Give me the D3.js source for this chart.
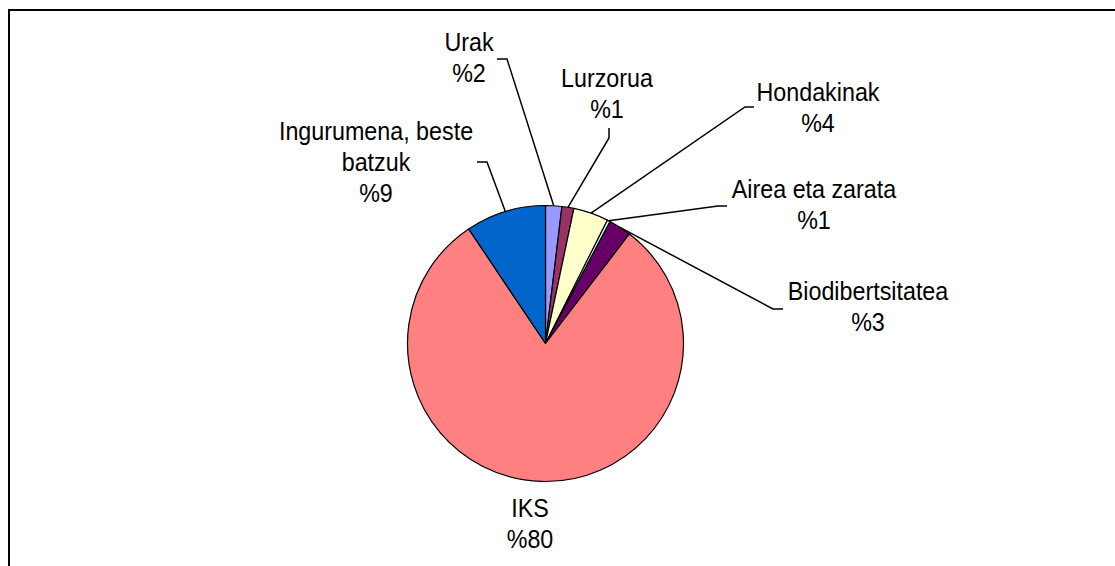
<!DOCTYPE html>
<html><head><meta charset="utf-8">
<script src="https://cdn.jsdelivr.net/npm/d3@7"></script>
<style>body{margin:0;background:#fff}svg{display:block}text{font-family:"Liberation Sans",Arial,sans-serif;font-size:23.3px;fill:#000}</style>
</head><body>
<script>
const categories = ["Urak","Lurzorua","Hondakinak","Airea eta zarata","Biodibertsitatea","IKS","Ingurumena, beste batzuk"];
const values = [1.9,1.4,4.1,0.35,2.65,80.2,9.4];
const pctLabels = ["%2","%1","%4","%1","%3","%80","%9"];
const colors = ["#9999FF","#993366","#FFFFCC","#CCFFFF","#660066","#FF8080","#0066CC"];

// label layout: text lines, centre x, first baseline, leader stub (start, corner)
const labelLayout = [
  {lines:["Urak"], x:469, y:51, stub:[[497,59],[507,59]]},
  {lines:["Lurzorua"], x:607, y:87, stub:[[609,128],[609,138]]},
  {lines:["Hondakinak"], x:818, y:101, stub:[[754,107],[745,107]]},
  {lines:["Airea eta zarata"], x:814, y:198, stub:[[727,206],[718,206]]},
  {lines:["Biodibertsitatea"], x:868, y:300, stub:[[783,309],[773,309]]},
  {lines:["IKS"], x:530, y:517, stub:null},
  {lines:["Ingurumena, beste","batzuk"], x:376, y:140, stub:[[477,162],[487,162]]}
];

const W=1115,H=566, cx=545.5, cy=343.5, r=138;
const svg=d3.select("body").append("svg").attr("width",W).attr("height",H);
svg.append("rect").attr("x",9).attr("y",10).attr("width",1200).attr("height",700)
  .attr("fill","#fff").attr("stroke","#000").attr("stroke-width",2);

const pie=d3.pie().sort(null).value(d=>d)(values);
const arc=d3.arc().innerRadius(0).outerRadius(r);
const g=svg.append("g").attr("transform",`translate(${cx},${cy})`);
g.selectAll("path").data(pie).join("path").attr("d",arc)
  .attr("fill",(d,i)=>colors[i]).attr("stroke","#000").attr("stroke-width",1.2).attr("stroke-linejoin","round");

const lineH=31;
labelLayout.forEach((L,i)=>{
  const lines=L.lines.concat([pctLabels[i]]);
  lines.forEach((s,k)=>{
    svg.append("text").attr("text-anchor","middle")
      .attr("transform",`translate(${L.x},${L.y+k*lineH}) scale(1,1.08)`).text(s);
  });
  if(L.stub){
    const p=pie[i], a=(p.startAngle+p.endAngle)/2;
    const ex=cx+r*Math.sin(a), ey=cy-r*Math.cos(a);
    svg.append("path").attr("fill","none").attr("stroke","#000").attr("stroke-width",1.5)
      .attr("d",d3.line()([L.stub[0],L.stub[1],[ex,ey]]));
  }
});
</script>
</body></html>
